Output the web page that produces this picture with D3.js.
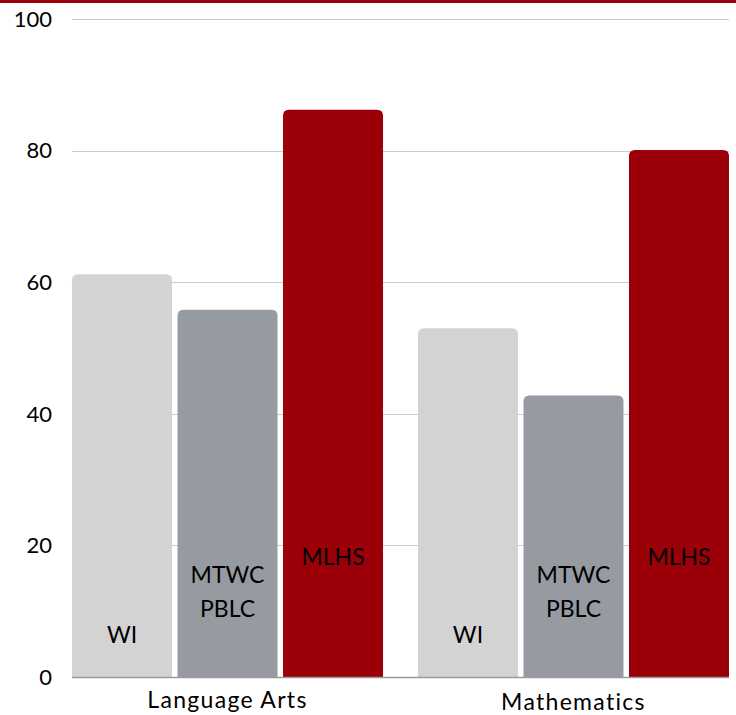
<!DOCTYPE html>
<meta charset="utf-8">
<html>
  <head>
    <style>
      body { margin: 0; background: #fff; }
      text { font-family: Lato, "Open Sans", sans-serif; fill: #000; }
      text.tick-label { font-size: 22px; }
      text.cat-label { font-size: 23px; letter-spacing: 1.3px; }
      text.bar-label { font-size: 23px; }
      line.grid { stroke: #cccccc; stroke-width: 1px; }
    </style>
    <script src="https://d3js.org/d3.v7.min.js"></script>
  </head>
  <body>
    <div id="chart"></div>
    <script type="text/javascript">
      var categories = ["Language Arts", "Mathematics"];
      var series = ["WI", "MTWC PBLC", "MLHS"];
      var wiValues = [61.2, 53.0];
      var mtwcValues = [55.8, 42.8];
      var mlhsValues = [86.2, 80.1];
      var yTicks = [0, 20, 40, 60, 80, 100];
      var colors = ["#d3d3d3", "#969aa1", "#9b0008"];

      var width = 736, height = 715;

      var svg = d3.select("#chart").append("svg")
          .attr("width", width)
          .attr("height", height);

      // top accent stripe
      svg.append("rect")
          .attr("x", 0).attr("y", 0)
          .attr("width", width).attr("height", 3)
          .style("fill", colors[2]);

      var plotLeft = 72, plotRight = 729;

      var y = d3.scaleLinear().domain([0, 100]).range([677, 19]);

      var x0 = d3.scaleBand().domain(categories)
          .range([plotLeft, plotRight])
          .paddingInner(0.101).paddingOuter(0);

      var x1 = d3.scaleBand().domain(series)
          .range([0, x0.bandwidth()])
          .paddingInner(0.052).paddingOuter(0);

      var rows = [];
      categories.forEach(function(c, i) {
        rows.push({ cat: c, key: series[0], value: wiValues[i], ci: 0 });
        rows.push({ cat: c, key: series[1], value: mtwcValues[i], ci: 1 });
        rows.push({ cat: c, key: series[2], value: mlhsValues[i], ci: 2 });
      });

      // gridlines
      svg.selectAll(".grid")
          .data(yTicks.filter(function(d) { return d > 0; }))
          .enter().append("line")
            .attr("class", "grid")
            .attr("x1", plotLeft).attr("x2", plotRight)
            .attr("y1", function(d) { return Math.round(y(d)) + 0.5; })
            .attr("y2", function(d) { return Math.round(y(d)) + 0.5; });

      svg.selectAll(".tick-label")
          .data(yTicks)
          .enter().append("text")
            .attr("class", "tick-label")
            .attr("x", 52)
            .attr("y", function(d) { return y(d); })
            .attr("dy", "0.35em")
            .style("text-anchor", "end")
            .text(function(d) { return d; });

      // bars with rounded tops
      function barPath(x, top, w, bottom, r) {
        return "M" + x + "," + bottom +
          "V" + (top + r) +
          "Q" + x + "," + top + " " + (x + r) + "," + top +
          "H" + (x + w - r) +
          "Q" + (x + w) + "," + top + " " + (x + w) + "," + (top + r) +
          "V" + bottom + "Z";
      }

      svg.selectAll(".bar")
          .data(rows)
          .enter().append("path")
            .attr("class", "bar")
            .attr("d", function(d) {
              return barPath(x0(d.cat) + x1(d.key), y(d.value), x1.bandwidth(), y(0), 6);
            })
            .style("fill", function(d) { return colors[d.ci]; });

      // baseline
      svg.append("line")
          .attr("x1", plotLeft).attr("x2", plotRight)
          .attr("y1", y(0) + 0.5).attr("y2", y(0) + 0.5)
          .style("stroke", "#9a9a9a").style("stroke-width", 1.5);

      // labels inside the bars
      var labelLines = { "WI": [["WI", 643]], "MTWC PBLC": [["MTWC", 583], ["PBLC", 617]], "MLHS": [["MLHS", 565]] };
      rows.forEach(function(d) {
        labelLines[d.key].forEach(function(l) {
          svg.append("text")
            .attr("class", "bar-label")
            .attr("x", x0(d.cat) + x1(d.key) + x1.bandwidth() / 2)
            .attr("y", l[1])
            .style("text-anchor", "middle")
            .text(l[0]);
        });
      });

      svg.selectAll(".cat-label")
          .data(categories)
          .enter().append("text")
            .attr("class", "cat-label")
            .attr("x", function(d) { return x0(d) + x0.bandwidth() / 2; })
            .attr("y", function(d, i) { return i == 0 ? 708 : 710; })
            .style("text-anchor", "middle")
            .text(function(d) { return d; });
    </script>
  </body>
</html>
